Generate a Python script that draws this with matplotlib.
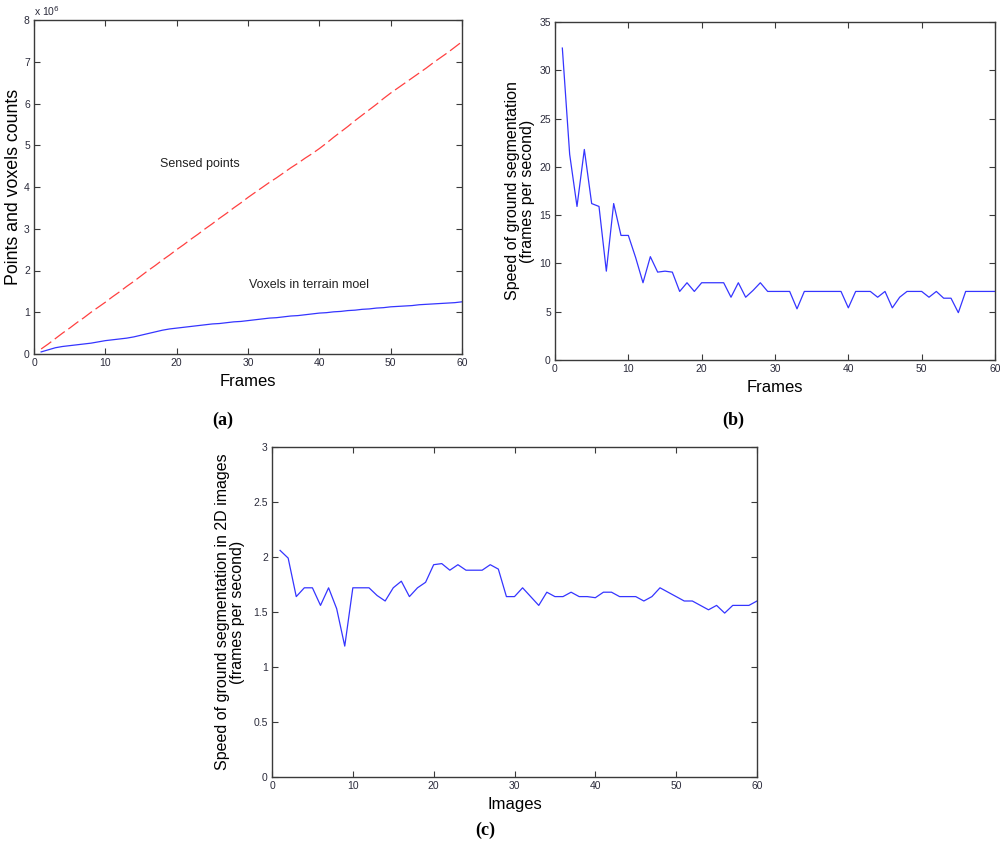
import matplotlib
matplotlib.use("Agg")
import matplotlib.pyplot as plt
import numpy as np

plt.rcParams['font.family'] = ['Liberation Sans', 'DejaVu Sans']

# ---------------- data ----------------
frames = list(range(1, 61))

# Panel (a): counts in units of 10^6
sensed_points_1e6 = [0.12, 0.24, 0.37, 0.50, 0.62, 0.75, 0.87, 1.00, 1.12, 1.24,
                     1.37, 1.49, 1.62, 1.74, 1.87, 2.00, 2.12, 2.25, 2.37, 2.50,
                     2.62, 2.75, 2.87, 3.00, 3.12, 3.25, 3.37, 3.50, 3.62, 3.75,
                     3.87, 3.99, 4.11, 4.22, 4.34, 4.46, 4.57, 4.69, 4.80, 4.92,
                     5.05, 5.19, 5.32, 5.45, 5.59, 5.72, 5.85, 5.98, 6.12, 6.25,
                     6.37, 6.49, 6.61, 6.73, 6.85, 6.98, 7.10, 7.22, 7.35, 7.48]
voxels_1e6 = [0.05, 0.10, 0.15, 0.18, 0.20, 0.22, 0.24, 0.26, 0.29, 0.32,
              0.34, 0.36, 0.38, 0.41, 0.45, 0.49, 0.53, 0.57, 0.60, 0.62,
              0.64, 0.66, 0.68, 0.70, 0.72, 0.73, 0.75, 0.77, 0.78, 0.80,
              0.82, 0.84, 0.86, 0.87, 0.89, 0.91, 0.92, 0.94, 0.96, 0.98,
              0.99, 1.01, 1.02, 1.04, 1.05, 1.07, 1.08, 1.10, 1.11, 1.13,
              1.14, 1.15, 1.16, 1.18, 1.19, 1.20, 1.21, 1.22, 1.23, 1.25]

# Panel (b): ground segmentation speed (frames per second)
speed_b = [32.3, 21.3, 15.9, 21.8, 16.2, 15.9, 9.2, 16.2, 12.9, 12.9,
           10.6, 8.0, 10.7, 9.1, 9.2, 9.1, 7.1, 8.0, 7.1, 8.0,
           8.0, 8.0, 8.0, 6.5, 8.0, 6.5, 7.2, 8.0, 7.1, 7.1,
           7.1, 7.1, 5.3, 7.1, 7.1, 7.1, 7.1, 7.1, 7.1, 5.4,
           7.1, 7.1, 7.1, 6.5, 7.1, 5.4, 6.5, 7.1, 7.1, 7.1,
           6.5, 7.1, 6.4, 6.4, 4.9, 7.1, 7.1, 7.1, 7.1, 7.1]

# Panel (c): ground segmentation speed in 2D images (frames per second)
images = list(range(1, 61))
speed_c = [2.06, 1.99, 1.64, 1.72, 1.72, 1.56, 1.72, 1.53, 1.19, 1.72,
           1.72, 1.72, 1.65, 1.60, 1.72, 1.78, 1.64, 1.72, 1.77, 1.93,
           1.94, 1.88, 1.93, 1.88, 1.88, 1.88, 1.93, 1.89, 1.64, 1.64,
           1.72, 1.64, 1.56, 1.68, 1.64, 1.64, 1.68, 1.64, 1.64, 1.63,
           1.68, 1.68, 1.64, 1.64, 1.64, 1.60, 1.64, 1.72, 1.68, 1.64,
           1.60, 1.60, 1.56, 1.52, 1.56, 1.49, 1.56, 1.56, 1.56, 1.60]

# ---------------- figure ----------------
W, H = 1000, 852
fig = plt.figure(figsize=(W / 100, H / 100), dpi=100)

def ax_at(left, top, right, bottom):
    return fig.add_axes([left / W, 1 - bottom / H, (right - left) / W, (bottom - top) / H])

axis_col = '#3a3a3a'
tick_col = '#2b2b3b'
blue = '#3535ff'
red = '#ff4040'

def style(ax):
    for s in ax.spines.values():
        s.set_color(axis_col)
        s.set_linewidth(1.0)
    ax.tick_params(direction='in', length=4, width=0.8, colors=axis_col,
                   top=True, right=True, labelsize=7.5, labelcolor=tick_col, pad=3)

# Panel (a)
axa = ax_at(34, 20, 462, 354)
axa.plot(frames, sensed_points_1e6, color=red, lw=0.9, dashes=(10, 3.5))
axa.plot(frames, voxels_1e6, color=blue, lw=0.9)
axa.set_xlim(0, 60)
axa.set_ylim(0, 8)
axa.set_xticks(range(0, 61, 10))
axa.set_yticks(range(0, 9))
style(axa)
axa.set_xlabel('Frames', fontsize=12, labelpad=4)
axa.set_ylabel('Points and voxels counts', fontsize=12.8)
axa.yaxis.set_label_coords((22 - 34) / 428, 0.5)
axa.text(0.0, 1.005, r'x 10$^{6}$', transform=axa.transAxes, fontsize=7.5,
         color=tick_col, ha='left', va='bottom')
axa.text(17.7, 4.54, 'Sensed points', fontsize=9, color='#222222', va='center')
axa.text(30.1, 1.66, 'Voxels in terrain moel', fontsize=9, color='#222222', va='center')

# Panel (b)
axb = ax_at(555, 22, 995, 360)
axb.plot(frames, speed_b, color=blue, lw=0.9)
axb.set_xlim(0, 60)
axb.set_ylim(0, 35)
axb.set_xticks(range(0, 61, 10))
axb.set_yticks(range(0, 36, 5))
style(axb)
axb.set_xlabel('Frames', fontsize=12, labelpad=4)
axb.set_ylabel('Speed of ground segmentation\n(frames per second)', fontsize=11.5,
               labelpad=3, linespacing=1.0)

# Panel (c)
axc = ax_at(272, 447, 757, 777)
axc.plot(images, speed_c, color=blue, lw=0.9)
axc.set_xlim(0, 60)
axc.set_ylim(0, 3)
axc.set_xticks(range(0, 61, 10))
axc.set_yticks([0, 0.5, 1, 1.5, 2, 2.5, 3])
axc.set_yticklabels(['0', '0.5', '1', '1.5', '2', '2.5', '3'])
style(axc)
axc.set_xlabel('Images', fontsize=12, labelpad=4)
axc.set_ylabel('Speed of ground segmentation in 2D images\n(frames per second)',
               fontsize=11.5, labelpad=6, linespacing=1.0)

# Sub-figure captions
for x, y, lab in [(223, 420, 'a'), (733, 420, 'b'), (485, 830, 'c')]:
    fig.text(x / W, 1 - y / H, '(' + lab + ')', fontsize=13, family='Liberation Serif',
             fontweight='bold', ha='center', va='center')

fig.savefig('out.png', dpi=100)
